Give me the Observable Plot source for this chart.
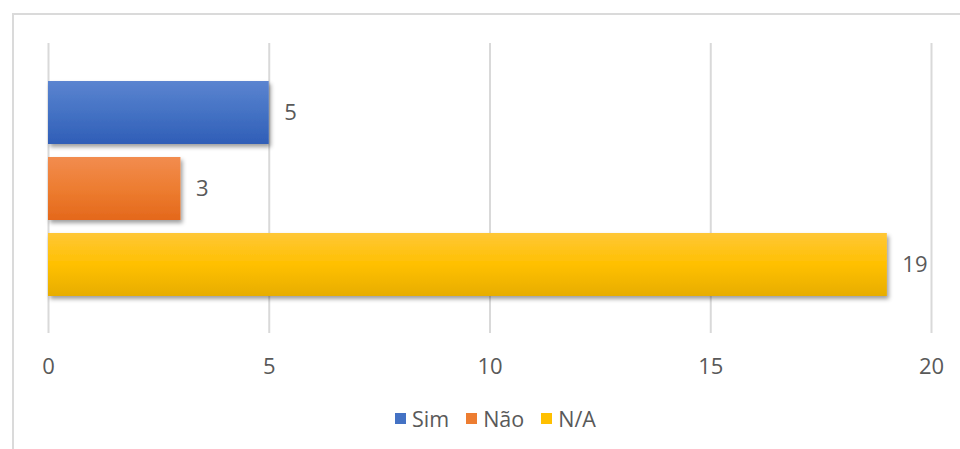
<!DOCTYPE html>
<html>
<head>
<meta charset="utf-8">
<script src="https://cdn.jsdelivr.net/npm/d3@7"></script>
<script src="https://cdn.jsdelivr.net/npm/@observablehq/plot@0.6"></script>
<style>
  html, body { margin: 0; padding: 0; background: #fff; }
  #page { position: relative; width: 960px; height: 449px; overflow: hidden; background: #fff; font-family: "Open Sans", sans-serif; color: #595959; }
  #frame { position: absolute; left: 12px; top: 13px; width: 1000px; height: 500px; border: 2px solid #dadada; box-sizing: border-box; }
  #chart { position: absolute; left: 0; top: 0; }
  #legend { position: absolute; left: 395px; top: 404px; display: flex; align-items: center; font-size: 21.5px; height: 28px; }
  .item { display: flex; align-items: center; margin-right: 17px; }
  .sw { width: 11px; height: 11px; margin-right: 6px; }
</style>
</head>
<body>
<div id="page">
  <div id="frame"></div>
  <div id="chart"></div>
  <div id="legend"></div>
</div>
<script>
const categories = ["Sim", "Não", "N/A"];
const values = [5, 3, 19];
const xTicks = [0, 5, 10, 15, 20];
const colors = ["#4472c4", "#ed7d31", "#ffc000"];
const gradients = [
  ["#5b84d0", "#4472c4", "#305eb7"],
  ["#f28c4f", "#ed7d31", "#e4681b"],
  ["#ffc737", "#ffc000", "#e7ad00"]
];

const data = categories.map((c, i) => ({cat: c, value: values[i], fill: `url(#grad${i})`}));

function defsMark() {
  const ns = "http://www.w3.org/2000/svg";
  const defs = document.createElementNS(ns, "defs");
  gradients.forEach((g, i) => {
    const lg = document.createElementNS(ns, "linearGradient");
    lg.setAttribute("id", `grad${i}`);
    lg.setAttribute("x1", "0"); lg.setAttribute("y1", "0");
    lg.setAttribute("x2", "0"); lg.setAttribute("y2", "1");
    [[0, g[0]], [0.5, g[1]], [1, g[2]]].forEach(([o, c]) => {
      const s = document.createElementNS(ns, "stop");
      s.setAttribute("offset", o);
      s.setAttribute("stop-color", c);
      lg.appendChild(s);
    });
    defs.appendChild(lg);
  });
  const f = document.createElementNS(ns, "filter");
  f.setAttribute("id", "shadow");
  f.setAttribute("x", "-10%"); f.setAttribute("y", "-20%");
  f.setAttribute("width", "130%"); f.setAttribute("height", "160%");
  const ds = document.createElementNS(ns, "feDropShadow");
  ds.setAttribute("dx", "2"); ds.setAttribute("dy", "3");
  ds.setAttribute("stdDeviation", "2.2");
  ds.setAttribute("flood-color", "#000");
  ds.setAttribute("flood-opacity", "0.38");
  f.appendChild(ds);
  defs.appendChild(f);
  return defs;
}

const plot = Plot.plot({
  width: 960,
  height: 400,
  marginLeft: 48,
  marginRight: 29,
  marginTop: 43,
  marginBottom: 67,
  style: {fontFamily: "Open Sans, sans-serif", fontSize: "22px", color: "#595959", background: "transparent", overflow: "visible"},
  x: {domain: [0, 20], axis: null, label: null},
  y: {domain: categories, paddingInner: 0.176, paddingOuter: 0.4835, axis: null, label: null},
  color: {type: "identity"},
  marks: [
    defsMark,
    Plot.gridX(xTicks, {stroke: "#d9d9d9", strokeWidth: 2, strokeOpacity: 1}),
    Plot.axisX(xTicks, {tickSize: 0, tickPadding: 25, fill: "#595959", fontSize: 22, label: null}),
    Plot.barX(data, {x: "value", y: "cat", fill: "fill"}),
    Plot.text(data, {x: "value", y: "cat", text: d => String(d.value), textAnchor: "start", dx: 15, fill: "#595959", fontSize: 22})
  ]
});

const barG = plot.querySelector('g[aria-label="bar"]');
if (barG) barG.setAttribute("filter", "url(#shadow)");
document.getElementById("chart").appendChild(plot);

const legend = document.getElementById("legend");
categories.forEach((c, i) => {
  const it = document.createElement("div");
  it.className = "item";
  const sw = document.createElement("div");
  sw.className = "sw";
  sw.style.background = colors[i];
  const t = document.createElement("span");
  t.textContent = c;
  it.appendChild(sw); it.appendChild(t);
  legend.appendChild(it);
});
</script>
</body>
</html>
